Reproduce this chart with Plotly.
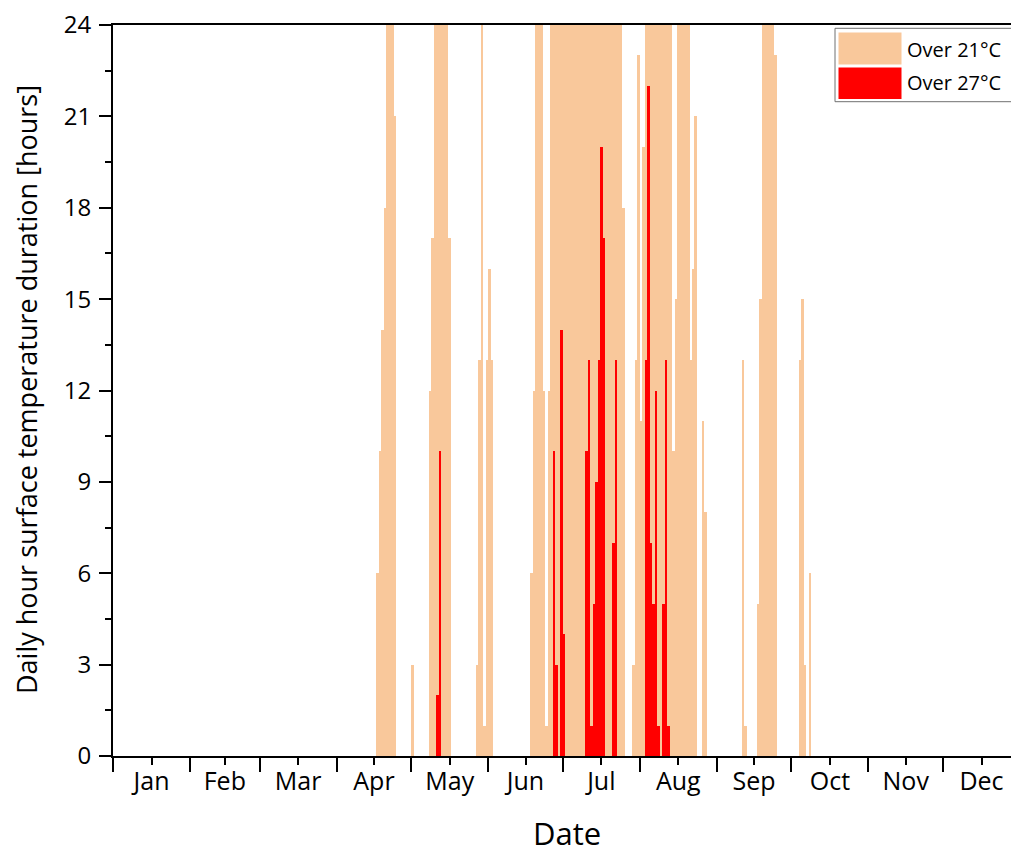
import plotly.graph_objects as go

# ---------------- data (day index = days since 1 Jan) ----------------
months = ["Jan", "Feb", "Mar", "Apr", "May", "Jun", "Jul", "Aug", "Sep", "Oct", "Nov", "Dec"]
month_bounds = [0, 31, 59, 90, 120, 151, 181, 212, 243, 273, 304, 334, 365]
month_mids = [15.5, 45, 74.5, 105, 135.5, 166, 196.5, 227.5, 258, 288.5, 319, 349.5]

days_21 = [106, 107, 108, 109, 110, 111, 112, 113,
           120,
           127, 128, 129, 130, 131, 132, 133, 134, 135,
           146, 147, 148, 149, 150, 151, 152,
           168, 169, 170, 171, 172, 173, 174, 175,
           176, 177, 178, 179, 180, 181, 182, 183, 184, 185, 186, 187, 188, 189, 190,
           191, 192, 193, 194, 195, 196, 197, 198, 199, 200, 201, 202, 203, 204,
           205,
           209, 210, 211, 212, 213,
           214, 215, 216, 217, 218, 219, 220, 221, 222, 223, 224,
           225, 226, 227, 228, 229, 230, 231, 232, 233, 234,
           237, 238,
           253, 254,
           259, 260, 261, 262, 263, 264, 265, 266,
           276, 277, 278,
           280]
hours_21 = [6, 10, 14, 18, 24, 24, 24, 21,
            3,
            12, 17, 24, 24, 24, 24, 24, 24, 17,
            3, 13, 24, 1, 13, 16, 13,
            6, 12, 24, 24, 24, 12, 1, 12,
            24, 24, 24, 24, 24, 24, 24, 24, 24, 24, 24, 24, 24, 24, 24,
            24, 24, 24, 24, 24, 24, 24, 24, 24, 24, 24, 24, 24, 24,
            18,
            3, 13, 23, 11, 20,
            24, 24, 24, 24, 24, 24, 24, 24, 24, 24, 24,
            10, 15, 24, 24, 24, 24, 24, 13, 16, 21,
            11, 8,
            13, 1,
            5, 15, 24, 24, 24, 24, 24, 23,
            13, 15, 3,
            6]

days_27 = [130, 131, 177, 178, 180, 181, 190, 191, 192, 193, 194, 195, 196, 197,
           201, 202, 214, 215, 216, 217, 218, 219, 221, 222, 223]
hours_27 = [2, 10, 10, 3, 14, 4, 10, 13, 1, 5, 9, 13, 20, 17,
            7, 13, 13, 22, 7, 5, 12, 1, 5, 13, 1]

PEACH = "#F9C89B"
RED = "#FF0000"
FONT = "Open Sans"

# ---------------- figure ----------------
fig = go.Figure()
fig.add_trace(go.Bar(x=[d + 0.5 for d in days_21], y=hours_21, width=1,
                     marker=dict(color=PEACH, line=dict(width=0)), name="Over 21°C"))
fig.add_trace(go.Bar(x=[d + 0.5 for d in days_27], y=hours_27, width=1,
                     marker=dict(color=RED, line=dict(width=0)), name="Over 27°C"))

W, H = 1011, 856
L, R, T, B = 113, 0, 25, 100
pw, ph = W - L - R, H - T - B
px_per_day = 2.485


def px(xp):
    return (xp - L) / pw


def py(yp):
    return (H - B - yp) / ph


fig.update_layout(
    width=W, height=H,
    margin=dict(l=L, r=R, t=T, b=B, autoexpand=False),
    barmode="overlay", bargap=0,
    plot_bgcolor="white", paper_bgcolor="white",
    showlegend=False,
    font=dict(family=FONT, color="black"),
    xaxis=dict(
        range=[0, pw / px_per_day],
        tickmode="array", tickvals=month_mids, ticktext=months,
        ticks="outside", ticklen=7, tickwidth=2, tickcolor="black",
        tickfont=dict(size=25, family=FONT, color="black"),
        ticklabelstandoff=-5,
        showline=True, linecolor="black", linewidth=2, mirror=True,
        showgrid=False, zeroline=False,
        minor=dict(tickmode="array", tickvals=month_bounds, ticks="outside",
                   ticklen=14, tickwidth=2, tickcolor="black", showgrid=False),
    ),
    yaxis=dict(
        range=[0, 24],
        tickmode="linear", tick0=0, dtick=3,
        ticks="outside", ticklen=12, tickwidth=2, tickcolor="black",
        tickfont=dict(size=24, family=FONT, color="black"),
        ticklabelstandoff=3,
        showline=True, linecolor="black", linewidth=2,
        showgrid=False, zeroline=False,
        minor=dict(dtick=1.5, ticks="outside", ticklen=6, tickwidth=2,
                   tickcolor="black", showgrid=False),
    ),
)

# manual legend (large swatches as in the original)
shapes = [
    dict(type="rect", xref="paper", yref="paper", x0=px(835), x1=px(1030), y0=py(101.7), y1=py(28.3),
         line=dict(color="#707070", width=1), fillcolor="white", layer="above"),
    dict(type="rect", xref="paper", yref="paper", x0=px(838.5), x1=px(901.5), y0=py(64.5), y1=py(32.5),
         line=dict(width=0), fillcolor=PEACH, layer="above"),
    dict(type="rect", xref="paper", yref="paper", x0=px(838.5), x1=px(901.5), y0=py(99), y1=py(67.5),
         line=dict(width=0), fillcolor=RED, layer="above"),
]
annotations = [
    dict(text="Over 21°C", xref="paper", yref="paper", x=px(905), y=py(49), xanchor="left",
         yanchor="middle", showarrow=False, font=dict(size=20, family=FONT, color="black")),
    dict(text="Over 27°C", xref="paper", yref="paper", x=px(905), y=py(83), xanchor="left",
         yanchor="middle", showarrow=False, font=dict(size=20, family=FONT, color="black")),
    dict(text="Daily hour surface temperature duration [hours]", xref="paper", yref="paper",
         x=px(26), y=py(390), xanchor="center", yanchor="middle", textangle=-90, showarrow=False,
         font=dict(size=27, family=FONT, color="black")),
    dict(text="Date", xref="paper", yref="paper",
         x=px(567), y=py(833), xanchor="center", yanchor="middle", showarrow=False,
         font=dict(size=31, family=FONT, color="black")),
]
fig.update_layout(shapes=shapes, annotations=annotations)

fig.write_html("out.html", config={"displayModeBar": False},
               post_script="document.body.style.margin='0';document.body.style.overflow='hidden';")
